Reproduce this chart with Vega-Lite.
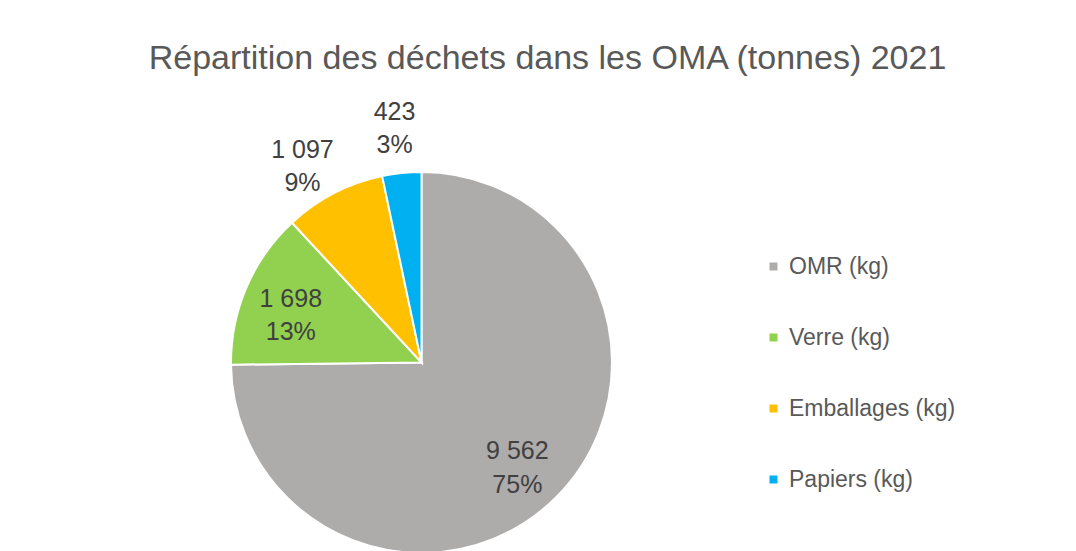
{
  "$schema": "https://vega.github.io/schema/vega-lite/v6.json",
  "width": 381,
  "height": 381,
  "autosize": {"type": "none"},
  "padding": {"left": 231, "top": 172, "right": 464, "bottom": 0},
  "background": "white",
  "config": {"view": {"stroke": null}},
  "title": {
    "text": "Répartition des déchets dans les OMA (tonnes) 2021",
    "font": "Liberation Sans",
    "fontSize": 34,
    "fontWeight": "normal",
    "color": "#595959",
    "anchor": "middle",
    "dx": 126,
    "offset": -3,
    "baseline": "alphabetic"
  },
  "data": {
    "values": [
      {"categorie": "OMR (kg)", "tonnes": 9562, "rang": 1},
      {"categorie": "Verre (kg)", "tonnes": 1698, "rang": 2},
      {"categorie": "Emballages (kg)", "tonnes": 1097, "rang": 3},
      {"categorie": "Papiers (kg)", "tonnes": 423, "rang": 4}
    ]
  },
  "transform": [
    {"joinaggregate": [{"op": "sum", "field": "tonnes", "as": "total"}]},
    {"calculate": "[replace(format(datum.tonnes, ','), ',', ' '), format(datum.tonnes / datum.total, '.0%')]", "as": "etiquette"}
  ],
  "encoding": {
    "theta": {"field": "tonnes", "type": "quantitative", "stack": true},
    "order": {"field": "rang", "type": "quantitative"}
  },
  "layer": [
    {
      "mark": {"type": "arc", "stroke": "white", "strokeWidth": 2},
      "encoding": {
        "color": {
          "field": "categorie",
          "type": "nominal",
          "scale": {
            "domain": ["OMR (kg)", "Verre (kg)", "Emballages (kg)", "Papiers (kg)"],
            "range": ["#AEABAB", "#92D050", "#FFC000", "#00B0F0"]
          },
          "legend": {
            "title": null,
            "orient": "none",
            "legendX": 531,
            "legendY": 83,
            "padding": 0,
            "symbolType": "square",
            "symbolSize": 64,
            "symbolStrokeWidth": 0,
            "labelFont": "Liberation Sans",
            "labelFontSize": 23,
            "labelColor": "#595959",
            "labelOffset": 4,
            "labelLimit": 400,
            "rowPadding": 47
          }
        }
      }
    },
    {
      "mark": {"type": "text", "radius": 139, "dx": -3, "dy": -9, "font": "Liberation Sans", "fontSize": 25, "lineHeight": 33.5, "color": "#404040", "baseline": "middle", "align": "center"},
      "encoding": {
        "text": {"condition": {"test": "datum.rang <= 2", "field": "etiquette"}, "value": ""}
      }
    },
    {
      "mark": {"type": "text", "radius": 235, "dx": -11, "dy": -4, "font": "Liberation Sans", "fontSize": 25, "lineHeight": 33.5, "color": "#404040", "baseline": "middle", "align": "center"},
      "encoding": {
        "text": {"condition": {"test": "datum.rang == 3", "field": "etiquette"}, "value": ""}
      }
    },
    {
      "mark": {"type": "text", "radius": 250, "dx": -1, "dy": -2, "font": "Liberation Sans", "fontSize": 25, "lineHeight": 33.5, "color": "#404040", "baseline": "middle", "align": "center"},
      "encoding": {
        "text": {"condition": {"test": "datum.rang == 4", "field": "etiquette"}, "value": ""}
      }
    }
  ]
}
